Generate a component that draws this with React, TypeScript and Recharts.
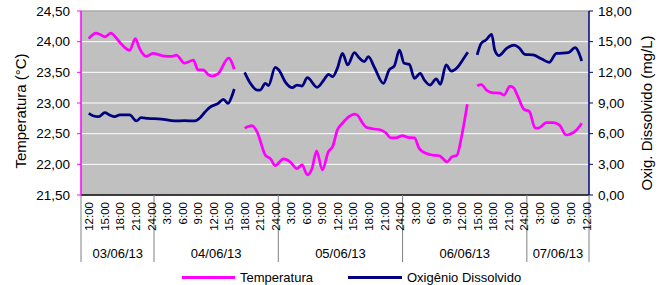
import { CartesianGrid, Label, Line, LineChart, ReferenceLine, XAxis, YAxis } from "recharts";

// hours counted from 12:00 on 03/06/13; null = gap in the record
const tempHours = [
  -0.6, 0.8, 1.5, 2.5, 3.7, 4.5, 5.7, 7.3, 8.4, 9.2, 10.5, 11.8, 13.7, 15.4, 16.3, 17.9, 19.6, 20.5, 21.5, 22.5,
  23.2, 24.4, 26.4, 27.5, 28.5,
  29.5, 30.9, 31.9, 33.5, 34.5, 35.4, 37.0, 38.3, 39.6, 40.6, 41.6, 42.5, 43.4, 44.5, 45.7, 46.5, 47.4, 48.4,
  49.7, 50.7, 51.3, 52.3, 52.9, 54.2, 55.8, 56.8, 57.7, 58.7, 60.0, 61.0, 62.3, 63.2, 64.5, 65.8, 67.1, 67.7,
  68.6, 69.5, 70.5, 71.5, 72.5, 73.4,
  74.4, 75.2, 76.2, 77.2, 78.8, 79.6, 80.7, 81.4, 82.3, 83.4, 84.5, 85.6, 86.2, 87.8, 89.1, 90.3, 91.6, 92.3,
  93.6, 94.6,
];
const tempValues = [
  24.05, 24.14, 24.12, 24.08, 24.14, 24.08, 23.96, 23.86, 24.05, 23.89, 23.76, 23.81, 23.77, 23.76, 23.78,
  23.65, 23.7, 23.54, 23.54, 23.46, 23.44, 23.48, 23.73, 23.55, null,
  22.59, 22.63, 22.53, 22.15, 22.09, 21.98, 22.09, 22.04, 21.93, 21.99, 21.83, 21.93, 22.22, 21.91, 22.21,
  22.29, 22.56, 22.67, 22.78, 22.82, 22.8, 22.67, 22.61, 22.58, 22.56, 22.51, 22.43, 22.43, 22.47, 22.44,
  22.43, 22.26, 22.18, 22.15, 22.14, 22.1, 22.04, 22.12, 22.15, 22.5, 22.98, null,
  23.28, 23.3, 23.21, 23.17, 23.16, 23.13, 23.27, 23.25, 23.1, 22.9, 22.86, 22.59, 22.59, 22.68, 22.68,
  22.64, 22.48, 22.49, 22.56, 22.67,
];

const oxyHours = [
  -0.6, 0.2, 1.3, 2.5, 3.4, 4.4, 5.4, 7.3, 8.6, 9.5, 10.8, 13.4, 16.0, 17.9, 19.9, 20.9, 21.8, 22.7, 24.4,
  25.4, 26.3, 27.0, 27.5, 28.5,
  29.5, 30.6, 31.9, 32.5, 33.5, 34.1, 35.4, 36.1, 37.4, 38.7, 39.6, 40.6, 41.6, 43.5, 44.8, 45.7, 46.5, 47.4,
  48.4, 49.4, 50.7, 51.6, 52.6, 53.4, 54.5, 56.3, 57.4, 58.4, 59.4, 60.3, 61.3, 62.3, 63.4, 64.2, 65.3, 66.5,
  67.3, 68.4, 69.4, 70.7, 71.6, 72.6, 73.4,
  74.4, 75.2, 76.1, 77.2, 77.8, 78.6, 80.1, 81.5, 82.5, 83.6, 85.2, 86.9, 88.3, 89.7, 92.0, 93.3, 94.6,
];
const oxyValues = [
  7.99, 7.76, 7.66, 8.05, 7.83, 7.66, 7.83, 7.83, 7.24, 7.56, 7.5, 7.43, 7.24, 7.27, 7.24, 7.56, 8.09, 8.55,
  8.97, 9.36, 8.97, 9.62, 10.37, null,
  12.0, 10.93, 10.27, 10.27, 10.93, 10.7, 12.49, 12.23, 11.02, 10.5, 10.76, 10.66, 11.48, 10.54, 11.25, 11.81,
  11.57, 12.39, 13.86, 12.72, 13.92, 13.43, 13.04, 13.53, 12.55, 10.93, 12.23, 12.62, 14.18, 12.88, 12.78,
  11.41, 11.9, 11.25, 10.76, 11.35, 10.83, 12.72, 12.13, 12.55, 13.21, 13.96, null,
  13.7, 14.84, 15.16, 15.72, 14.18, 13.63, 14.35, 14.67, 14.41, 13.76, 13.7, 13.3, 12.98, 13.86, 13.92,
  14.41, 13.11,
];

const timeTicks = [
  0, 3, 6, 9, 12, 15, 18, 21, 24, 27, 30, 33, 36, 39, 42, 45, 48, 51, 54, 57, 60, 63, 66, 69, 72, 75, 78, 81,
  84, 87, 90, 93, 96,
];
const timeLabels = [
  "12:00", "15:00", "18:00", "21:00", "24:00",
  "3:00", "6:00", "9:00", "12:00", "15:00", "18:00", "21:00", "24:00",
  "3:00", "6:00", "9:00", "12:00", "15:00", "18:00", "21:00", "24:00",
  "3:00", "6:00", "9:00", "12:00", "15:00", "18:00", "21:00", "24:00",
  "3:00", "6:00", "9:00", "12:00",
];
const dayBounds = [-2.1, 12, 36, 60, 84, 96];
const dateCenters = [5, 24, 48, 72, 90];
const dateLabels = ["03/06/13", "04/06/13", "05/06/13", "06/06/13", "07/06/13"];

const tempTicks = [21.5, 22, 22.5, 23, 23.5, 24, 24.5];
const oxyTicks = [0, 3, 6, 9, 12, 15, 18];

const tempData = tempHours.map((h, i) => ({ h, v: tempValues[i] }));
const oxyData = oxyHours.map((h, i) => ({ h, v: oxyValues[i] }));
const xTicks = [dayBounds[0], ...timeTicks];

const fmt = (v: number) => v.toFixed(2).replace(".", ",");

function TimeTick({ x, y, payload }: any) {
  const v = payload.value;
  const i = timeTicks.indexOf(v);
  const ty = y + 7;
  return (
    <g>
      {dayBounds.includes(v) && <line x1={x} x2={x} y1={y} y2={y + 67} stroke="#808080" />}
      {i >= 0 && (
        <text x={x} y={ty} dy={1.5} transform={`rotate(-90 ${x} ${ty})`} textAnchor="end" fontSize={11.5} fill="#000">
          {timeLabels[i]}
        </text>
      )}
    </g>
  );
}

function DateTick({ x, y, payload }: any) {
  const i = dateCenters.indexOf(payload.value);
  return (
    <text x={x} y={y} dy={17.5} textAnchor="middle" fontSize={13} fill="#000">
      {dateLabels[i]}
    </text>
  );
}

const leftTitle = ({ viewBox }: any) => {
  const cx = viewBox.x + 26;
  const cy = viewBox.y + viewBox.height / 2 + 8;
  return (
    <text x={cx} y={cy} transform={`rotate(-90 ${cx} ${cy})`} textAnchor="middle" fontSize={15} fill="#000">
      Temperatura (°C)
    </text>
  );
};

const rightTitle = ({ viewBox }: any) => {
  const cx = viewBox.x + 63;
  const cy = viewBox.y + viewBox.height / 2 + 10;
  return (
    <text x={cx} y={cy} transform={`rotate(-90 ${cx} ${cy})`} textAnchor="middle" fontSize={15} fill="#000">
      Oxig. Dissolvido (mg/L)
    </text>
  );
};

export default function App() {
  return (
    <div
      style={{
        position: "absolute",
        left: 0,
        top: 0,
        width: 664,
        height: 285,
        background: "#fff",
        fontFamily: '"Liberation Sans", Arial, sans-serif',
      }}
    >
      <LineChart width={664} height={285} margin={{ top: 11, right: 0, bottom: 0, left: 0 }}>
        <CartesianGrid
          xAxisId="a-time"
          yAxisId="t"
          vertical={false}
          fill="#C0C0C0"
          fillOpacity={1}
          stroke="#ffffff"
        />
        <XAxis
          xAxisId="a-time"
          dataKey="h"
          type="number"
          domain={[dayBounds[0], 96]}
          ticks={xTicks}
          interval={0}
          allowDataOverflow
          height={45}
          tickSize={0}
          tickMargin={0}
          tickLine={false}
          axisLine={{ stroke: "#000", strokeWidth: 1.5 }}
          tick={<TimeTick />}
        />
        <XAxis
          xAxisId="b-date"
          dataKey="h"
          type="number"
          domain={[dayBounds[0], 96]}
          ticks={dateCenters}
          interval={0}
          allowDataOverflow
          height={45}
          tickSize={0}
          tickMargin={0}
          tickLine={false}
          axisLine={false}
          tick={<DateTick />}
        />
        <YAxis
          yAxisId="t"
          orientation="left"
          width={81}
          domain={[21.5, 24.5]}
          ticks={tempTicks}
          interval={0}
          allowDataOverflow
          tickFormatter={fmt}
          axisLine={{ stroke: "#FF00FF", strokeWidth: 1.5 }}
          tickLine={{ stroke: "#FF00FF" }}
          tickSize={4}
          tickMargin={7}
          tick={{ fill: "#000", fontSize: 13.5 }}
        >
          <Label content={leftTitle} />
        </YAxis>
        <YAxis
          yAxisId="o"
          orientation="right"
          width={75}
          domain={[0, 18]}
          ticks={oxyTicks}
          interval={0}
          allowDataOverflow
          tickFormatter={fmt}
          axisLine={{ stroke: "#000080", strokeWidth: 1.5 }}
          tickLine={{ stroke: "#000080" }}
          tickSize={4}
          tickMargin={5}
          tick={{ fill: "#000", fontSize: 13.5 }}
        >
          <Label content={rightTitle} />
        </YAxis>
        <ReferenceLine xAxisId="a-time" yAxisId="t" y={24.5} stroke="#808080" />
        <Line
          xAxisId="a-time"
          yAxisId="t"
          data={tempData}
          dataKey="v"
          type="monotone"
          stroke="#FF00FF"
          strokeWidth={2.75}
          dot={false}
          connectNulls={false}
          isAnimationActive={false}
        />
        <Line
          xAxisId="a-time"
          yAxisId="o"
          data={oxyData}
          dataKey="v"
          type="monotone"
          stroke="#000080"
          strokeWidth={2.75}
          dot={false}
          connectNulls={false}
          isAnimationActive={false}
        />
      </LineChart>
      <div style={{ position: "absolute", left: 182, top: 270, display: "flex", alignItems: "center", fontSize: 13 }}>
        <span style={{ width: 53, height: 3, background: "#FF00FF", marginRight: 5 }} />
        <span>Temperatura</span>
      </div>
      <div style={{ position: "absolute", left: 348, top: 270, display: "flex", alignItems: "center", fontSize: 13 }}>
        <span style={{ width: 54, height: 3, background: "#000080", marginRight: 5 }} />
        <span>Oxigênio Dissolvido</span>
      </div>
    </div>
  );
}
